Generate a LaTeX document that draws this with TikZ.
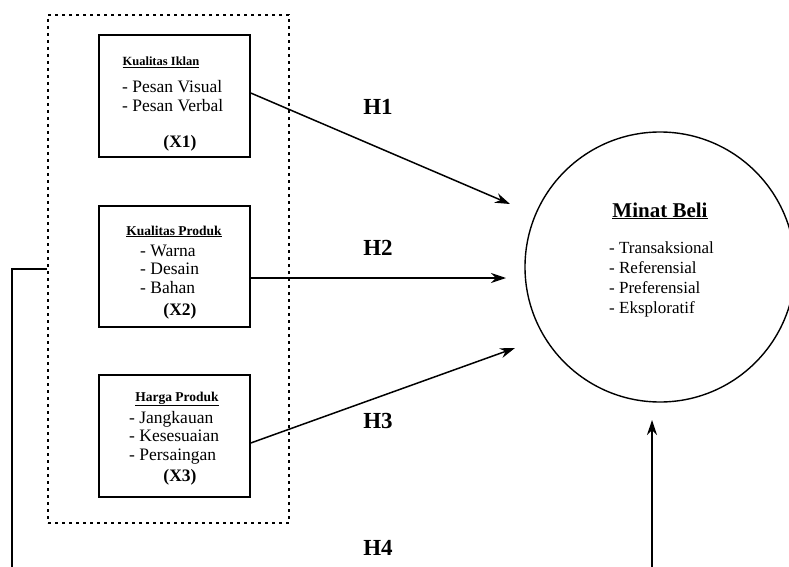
\documentclass[tikz,border=0pt]{standalone}
\usepackage{fontspec}
\setmainfont{Liberation Serif}
\usetikzlibrary{positioning,calc,arrows.meta}

\begin{document}
\begin{tikzpicture}[x=1pt,y=-1pt,>={Stealth[length=15pt,width=10pt]},
    var node/.style={draw, rectangle, line width=1.5pt, minimum width=151pt,
      minimum height=122pt, inner sep=0pt},
    head text/.style={font=\bfseries\fontsize{13.5}{15}\selectfont, inner sep=0pt, anchor=base},
    item text/.style={font=\fontsize{17.5}{19}\selectfont, inner sep=0pt, anchor=base west},
    x text/.style={font=\bfseries\fontsize{17.5}{19}\selectfont, inner sep=0pt, anchor=base},
    hyp/.style={font=\bfseries\fontsize{23}{25}\selectfont, inner sep=0pt, anchor=base},
    path line/.style={->, line width=1.5pt}]

  \useasboundingbox (0,0) rectangle (789,567);

  % group of independent variables
  \node[draw, rectangle, line width=2pt, dash pattern=on 3pt off 4pt,
    minimum width=241pt, minimum height=508pt] (grp) at (168.5,269) {};

  \node[var node] (k1) at (174.5,96) {};
  \node[var node, minimum height=121pt] (k2) at (174.5,266.5) {};
  \node[var node] (k3) at (174.5,436) {};

  \node[head text, font=\bfseries\fontsize{12.5}{14}\selectfont] (k1h) at (161,66) {\underline{Kualitas Iklan}};
  \foreach \t [count=\i from 0] in {Pesan Visual, Pesan Verbal}
    \node[item text] (k1i\i) at (122,{93+18*\i}) {- \t};
  \node[x text] (k1x) at (180,147) {(X1)};

  \node[head text] (k2h) at (174,235) {\underline{Kualitas Produk}};
  \foreach \t [count=\i from 0] in {Warna, Desain, Bahan}
    \node[item text] (k2i\i) at (140,{256+18.5*\i}) {- \t};
  \node[x text] (k2x) at (180,315) {(X2)};

  \node[head text] (k3h) at (177,401) {\underline{Harga Produk}};
  \foreach \t [count=\i from 0] in {Jangkauan, Kesesuaian, Persaingan}
    \node[item text] (k3i\i) at (129,{423+18.5*\i}) {- \t};
  \node[x text] (k3x) at (180,481) {(X3)};

  % dependent variable
  \node[draw, circle, line width=1.4pt, minimum size=270pt] (mb) at (660,267) {};
  \node[head text, font=\bfseries\fontsize{21}{23}\selectfont] (mbh) at (660,217) {\underline{Minat Beli}};
  \foreach \t [count=\i from 0] in {Transaksional, Referensial, Preferensial, Eksploratif}
    \node[item text, font=\fontsize{17}{20}\selectfont] (mbi\i) at (609,{253+20*\i}) {- \t};

  % arrow ends
  \coordinate (h1e) at (510,204);
  \coordinate (h2e) at (506,278);
  \coordinate (h3e) at (515,348);
  \coordinate (h4e) at (652,420);
  \coordinate (h4l) at (12,567);
  \coordinate (h4r) at (652,567);

  \draw[path line] ([yshift=3pt]k1.east) -- (h1e);
  \draw[path line] (k2.east |- h2e) -- (h2e);
  \draw[path line] ([yshift=-7pt]k3.east) -- (h3e);
  \draw[line width=1.5pt] (grp.west) -| (h4l);
  \draw[path line] (h4r) -- (h4e);

  \node[hyp] (hy1) at (378,115) {H1};
  \node[hyp] (hy2) at (378,255) {H2};
  \node[hyp] (hy3) at (378,428) {H3};
  \node[hyp] (hy4) at (378,555) {H4};
\end{tikzpicture}
\end{document}
